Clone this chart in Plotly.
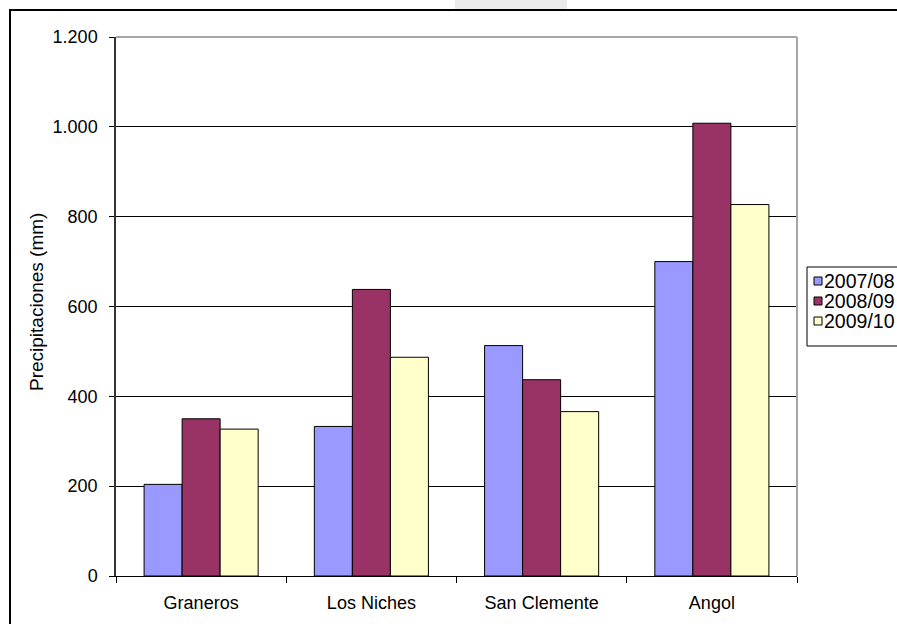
import plotly.graph_objects as go

categories = ["Graneros", "Los Niches", "San Clemente", "Angol"]
series_names = ["2007/08", "2008/09", "2009/10"]
values_2007_08 = [204, 333, 513, 700]
values_2008_09 = [350, 638, 437, 1008]
values_2009_10 = [327, 487, 366, 827]
colors = ["#9999FF", "#993366", "#FFFFCC"]
y_tick_values = [0, 200, 400, 600, 800, 1000, 1200]
y_tick_labels = ["0", "200", "400", "600", "800", "1.000", "1.200"]

W, H = 897, 624
L, R, T, B = 116, 797, 37, 576
FONT = "Liberation Sans, Arial, sans-serif"


def px(x):
    return (x - L) / (R - L)


def py(y):
    return (B - y) / (B - T)


fig = go.Figure()
for name, vals, col in zip(series_names, [values_2007_08, values_2008_09, values_2009_10], colors):
    fig.add_trace(go.Bar(
        name=name, x=categories, y=vals,
        marker=dict(color=col, line=dict(color="#000000", width=1)),
        showlegend=False,
    ))

shapes = []
# watermark strip at top
shapes.append(dict(type="rect", xref="paper", yref="paper",
                   x0=px(455), x1=px(567), y0=py(9), y1=py(-2),
                   fillcolor="#ebebeb", line=dict(width=0), layer="above"))
# outer chart border
shapes.append(dict(type="rect", xref="paper", yref="paper",
                   x0=px(10), x1=px(905), y0=py(632), y1=py(10),
                   line=dict(color="#000000", width=2), fillcolor="rgba(0,0,0,0)", layer="above"))
# plot area top/right border (grey)
shapes.append(dict(type="line", xref="paper", yref="paper",
                   x0=0, x1=1, y0=1, y1=1,
                   line=dict(color="#a6a6a6", width=2), layer="above"))
shapes.append(dict(type="line", xref="paper", yref="paper",
                   x0=1, x1=1, y0=0, y1=1,
                   line=dict(color="#a6a6a6", width=2), layer="above"))

# manual legend
leg_x0, leg_x1, leg_y0, leg_y1 = 807, 905, 267, 346
shapes.append(dict(type="rect", xref="paper", yref="paper",
                   x0=px(leg_x0), x1=px(leg_x1), y0=py(leg_y1), y1=py(leg_y0),
                   line=dict(color="#000000", width=1), fillcolor="#ffffff", layer="above"))
annotations = []
for i, (name, col) in enumerate(zip(series_names, colors)):
    cy = 281 + 20 * i
    shapes.append(dict(type="rect", xref="paper", yref="paper",
                       x0=px(814), x1=px(822), y0=py(cy + 4), y1=py(cy - 4),
                       line=dict(color="#000000", width=1), fillcolor=col, layer="above"))
    annotations.append(dict(xref="paper", yref="paper", x=px(822), y=py(cy),
                            text=name, showarrow=False, xanchor="left", yanchor="middle",
                            font=dict(family=FONT, size=19.5, color="#000000")))

# y-axis title
annotations.append(dict(xref="paper", yref="paper", x=px(36), y=py(302),
                        text="Precipitaciones (mm)", textangle=-90, showarrow=False,
                        xanchor="center", yanchor="middle",
                        font=dict(family=FONT, size=19, color="#000000")))

fig.update_layout(
    width=W, height=H,
    margin=dict(l=L, r=W - R, t=T, b=H - B, autoexpand=False),
    paper_bgcolor="#ffffff", plot_bgcolor="#ffffff",
    barmode="group", bargap=0.33, bargroupgap=0,
    font=dict(family=FONT, size=18, color="#000000"),
    shapes=shapes, annotations=annotations,
    showlegend=False,
)
fig.update_xaxes(
    type="category", showline=True, linecolor="#000000", linewidth=1,
    ticks="outside", tickson="boundaries", ticklen=6, tickcolor="#000000", tickwidth=1,
    showgrid=False, ticklabelstandoff=10,
    tickfont=dict(family=FONT, size=18, color="#000000"),
)
fig.update_yaxes(
    range=[0, 1200], tickvals=y_tick_values, ticktext=y_tick_labels,
    showline=True, linecolor="#333333", linewidth=1.5,
    ticks="outside", ticklen=5, tickcolor="#000000", tickwidth=1,
    showgrid=True, gridcolor="#000000", gridwidth=1, zeroline=False,
    ticklabelstandoff=8,
    tickfont=dict(family=FONT, size=18, color="#000000"),
)

fig.write_html("out.html")
